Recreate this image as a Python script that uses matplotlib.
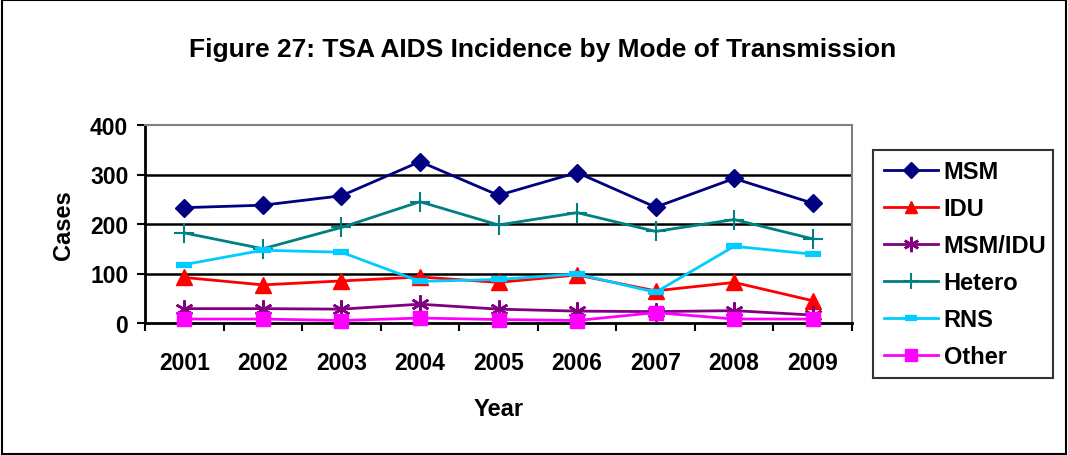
import numpy as np
import matplotlib.pyplot as plt
from matplotlib.ticker import FixedLocator, NullFormatter

plt.rcParams['font.family'] = ['Liberation Sans', 'DejaVu Sans']

years = ['2001', '2002', '2003', '2004', '2005', '2006', '2007', '2008', '2009']
msm = [233, 238, 257, 326, 258, 304, 234, 292, 242]
idu = [92, 77, 85, 93, 82, 97, 65, 82, 45]
msm_idu = [29, 29, 28, 38, 28, 24, 23, 25, 16]
hetero = [182, 150, 193, 245, 198, 223, 185, 209, 170]
rns = [118, 147, 143, 84, 88, 99, 62, 155, 139]
other = [8, 8, 5, 10, 7, 5, 21, 8, 8]

series = [
    ('MSM', msm, '#000080', 'D', 9, 1.0),
    ('IDU', idu, '#FF0000', '^', 11, 1.0),
    ('MSM/IDU', msm_idu, '#800080', (6, 2, 0), 13, 1.8),
    ('Hetero', hetero, '#008080', '+', 14, 1.5),
    ('RNS', rns, '#00CCFF', '_', 11, 4.5),
    ('Other', other, '#FF00FF', 's', 10, 1.0),
]

fig = plt.figure(figsize=(10.68, 4.56), dpi=100)
ax = fig.add_axes([145/1068, 1-324/456, 707/1068, 198/456])

x = np.arange(len(years))
for name, vals, col, mk, ms, mew in series:
    ax.plot(x, vals, color=col, lw=2, marker=mk, markersize=ms,
            markeredgewidth=mew, markerfacecolor=col, markeredgecolor=col,
            label=name, clip_on=False, zorder=3)

ax.set_xlim(-0.5, len(years) - 0.5)
ax.set_ylim(0, 400)
ax.set_yticks([0, 100, 200, 300, 400])
ax.set_xticks(x)
ax.set_xticklabels(years, fontsize=16.5, fontweight='bold')
ax.tick_params(axis='x', which='major', length=0, pad=20)
ax.xaxis.set_minor_locator(FixedLocator(np.arange(-0.5, len(years), 1.0)))
ax.xaxis.set_minor_formatter(NullFormatter())
ax.tick_params(axis='x', which='minor', length=6, width=1.5, direction='out')
ax.tick_params(axis='y', length=6, width=1.5, direction='out', labelsize=16.5, pad=6)
for lab in ax.get_yticklabels():
    lab.set_fontweight('bold')

for yv in [100, 200, 300]:
    ax.axhline(yv, color='black', lw=1.8, zorder=1)

ax.spines['left'].set_linewidth(2)
ax.spines['bottom'].set_linewidth(2)
ax.spines['top'].set_color('#808080')
ax.spines['top'].set_linewidth(1.5)
ax.spines['right'].set_color('#808080')
ax.spines['right'].set_linewidth(1.5)

ax.set_xlabel('Year', fontsize=17, fontweight='bold', labelpad=17)
ax.set_ylabel('Cases', fontsize=17, fontweight='bold', labelpad=11)

fig.text(543/1068, 1-50/456, 'Figure 27: TSA AIDS Incidence by Mode of Transmission',
         ha='center', va='center', fontsize=19, fontweight='bold')

leg = ax.legend(loc='center', bbox_to_anchor=(873/1068, 1-380/456, 180/1068, 230/456),
                bbox_transform=fig.transFigure, mode='expand', frameon=True,
                fancybox=False, edgecolor='black', borderpad=0.45,
                labelspacing=0.59, handlelength=2.3, handletextpad=0.25,
                borderaxespad=0, prop={'weight': 'bold', 'size': 17})
leg.get_frame().set_linewidth(1.5)
for h in leg.legend_handles:
    h.set_markersize(h.get_markersize() * 0.85)

# outer border
fig.patches.append(plt.Rectangle((0.002, 0.002), 0.996, 0.996, transform=fig.transFigure,
                                 fill=False, edgecolor='black', lw=1.5))

fig.savefig('out.png', dpi=100)
